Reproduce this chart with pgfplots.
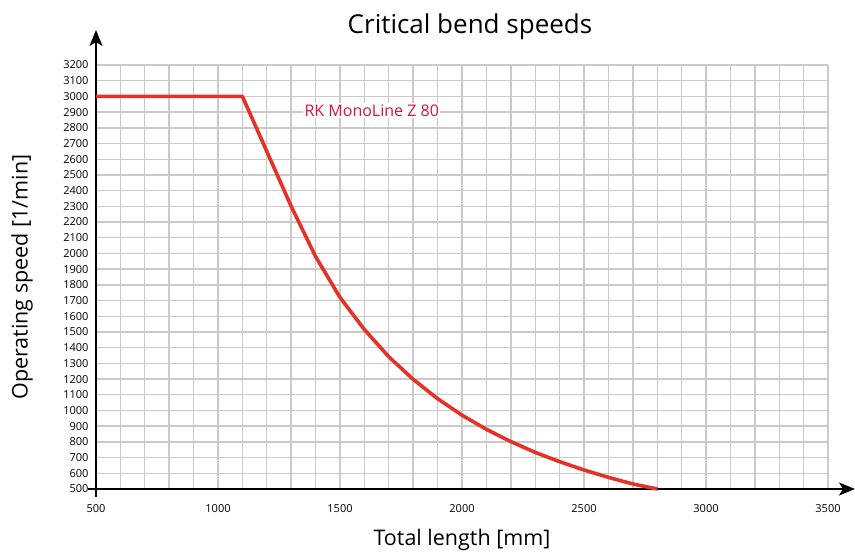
\documentclass[border=0pt]{standalone}
\usepackage{pgfplots}
\pgfplotsset{compat=1.18}
\usepackage{fontspec}
\setmainfont{Open Sans}
\usetikzlibrary{arrows.meta}
\definecolor{curvered}{RGB}{229,50,40}
\definecolor{labelred}{RGB}{220,20,60}
\definecolor{gridgray}{RGB}{202,202,202}
\pgfplotstableread{
L n
500 3000
1100 3000
1300 2300
1400 1980
1500 1720
1600 1515
1700 1342
1800 1198
1900 1075
2000 970
2100 880
2200 802
2300 733
2400 674
2500 621
2600 574
2700 532
2800 500
}\curve
\begin{document}
\begin{tikzpicture}
\begin{axis}[
  at={(0pt,0pt)}, anchor=south west,
  scale only axis, width=732pt, height=424pt,
  xmin=500, xmax=3500, ymin=500, ymax=3200,
  axis lines=left,
  x axis line style={line width=1.5pt, -{Stealth[length=16pt,width=13pt,inset=4pt]}, shorten >=-27pt, shorten <=-8pt},
  y axis line style={line width=1.5pt, -{Stealth[length=16pt,width=13pt,inset=4pt]}, shorten >=-35pt, shorten <=-8pt},
  xtick={500,1000,...,3500},
  minor x tick num=4,
  ytick={500,600,...,3200},
  grid=both,
  major grid style={gridgray, line width=1.4pt},
  minor grid style={gridgray, line width=1.4pt},
  major tick length=0pt, minor tick length=0pt,
  tick label style={font=\fontsize{11}{13}\selectfont},
  /pgf/number format/assume math mode=true,
  /pgf/number format/1000 sep={},
  xticklabel style={yshift=-12pt},
  yticklabel style={xshift=-4pt},
  clip=false,
]
\addplot[curvered, line width=3.6pt, line join=round] table[x=L, y=n] {\curve};
\node[fill=white, inner sep=1.5pt, text=labelred, font=\fontsize{16}{18}\selectfont] at (axis cs:1630,2910) {RK MonoLine Z 80};
\end{axis}
\node[font=\fontsize{26}{30}\selectfont] at (374pt,462pt) {Critical bend speeds};
\node[font=\fontsize{21.5}{25}\selectfont] at (366pt,-51pt) {Total length [mm]};
\node[font=\fontsize{21.5}{25}\selectfont, rotate=90] at (-74pt,212pt) {Operating speed [1/min]};
\pgfresetboundingbox
\path[use as bounding box] (-96pt,-64pt) rectangle (759pt,489pt);
\end{tikzpicture}
\end{document}
